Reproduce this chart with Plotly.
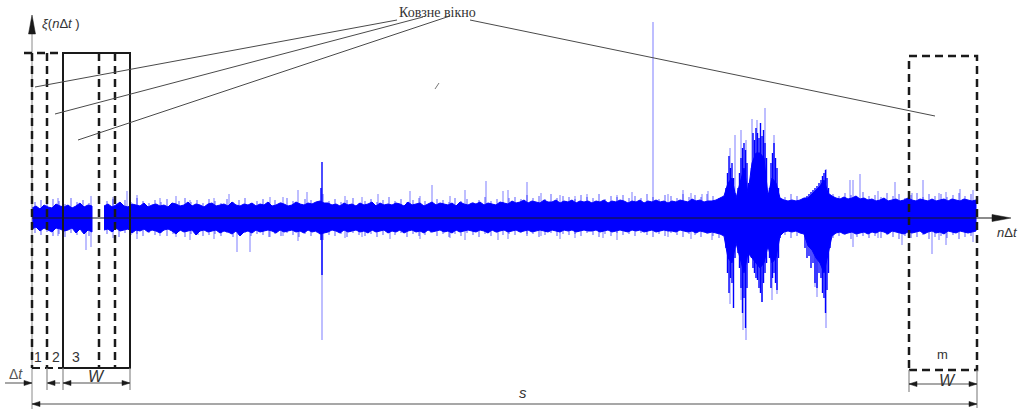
import plotly.graph_objects as go

# ---------------- data (amplitudes in chart units, time in samples) ----------------
T0 = 32          # first sample position of the envelope grid
DT = 4           # envelope grid spacing
# upper / lower envelope of the dense signal core (None = break in the record)
core_hi = [
    10, 12, 9, 13, 11, 10, 14, 12, 11, 13,
    10, 12, 15, 11, 13, 12, None, None, 12, 14,
    11, 13, 16, 12, 11, 14, 13, 12, 15, 11,
    13, 14, 12, 13, 11, 15, 14, 12, 13, 16,
    12, 14, 13, 11, 14, 15, 12, 13, 14, 12,
    16, 13, 12, 14, 13, 15, 12, 14, 13, 16,
    12, 13, 15, 14, 12, 13, 16, 14, 13, 15,
    14, 16, 17, 15, 15, 13, 14, 12, 15, 13,
    14, 12, 15, 13, 14, 16, 12, 15, 13, 14,
    13, 15, 14, 12, 16, 13, 14, 15, 12, 14,
    16, 13, 15, 14, 13, 15, 12, 16, 14, 13,
    15, 14, 16, 13, 15, 14, 13, 16, 15, 14,
    17, 15, 16, 18, 15, 17, 16, 15, 18, 16,
    16, 18, 15, 17, 16, 18, 15, 17, 16, 17,
    15, 17, 16, 18, 15, 17, 16, 18, 17, 15,
    17, 16, 18, 15, 17, 16, 18, 16, 17, 15,
    17, 16, 18, 17, 16, 19, 17, 18, 16, 17,
    17, 18, 20, 22, 35, 40, 20, 35, 50, 25,
    55, 65, 65, 60, 22, 40, 35, 20, 18, 17,
    18, 17, 18, 20, 20, 24, 28, 32, 38, 25,
    22, 20, 19, 21, 19, 20, 22, 19, 20, 18,
    19, 17, 18, 20, 17, 18, 19, 17, 18, 20,
    18, 17, 19, 18, 17, 19, 17, 18, 19, 17,
    19, 18, 17, 19, 18, 17, 18,
]
core_lo = [
    -11, -9, -13, -10, -12, -14, -10, -11, -13, -12,
    -10, -15, -11, -16, -12, -14, None, None, -12, -11,
    -14, -10, -13, -12, -11, -15, -12, -13, -11, -14,
    -12, -13, -15, -12, -11, -13, -16, -12, -14, -13,
    -12, -17, -13, -12, -14, -13, -12, -15, -13, -14,
    -16, -13, -18, -14, -13, -15, -12, -14, -13, -12,
    -13, -15, -12, -14, -13, -12, -14, -13, -15, -12,
    -14, -13, -16, -15, -14, -12, -13, -15, -12, -14,
    -13, -12, -14, -13, -15, -12, -14, -13, -12, -15,
    -13, -14, -12, -15, -13, -12, -14, -13, -15, -12,
    -14, -13, -12, -14, -13, -15, -12, -14, -13, -12,
    -13, -14, -12, -13, -15, -12, -14, -13, -12, -14,
    -13, -12, -14, -13, -12, -14, -13, -12, -13, -14,
    -12, -13, -14, -12, -13, -12, -14, -13, -12, -13,
    -13, -12, -14, -13, -12, -14, -13, -12, -13, -14,
    -12, -13, -12, -14, -13, -12, -14, -13, -12, -13,
    -13, -14, -12, -13, -14, -13, -15, -13, -14, -15,
    -14, -15, -16, -18, -40, -45, -25, -40, -55, -35,
    -40, -45, -50, -45, -28, -45, -40, -18, -14, -13,
    -14, -13, -15, -16, -28, -32, -40, -45, -55, -35,
    -18, -15, -14, -16, -15, -14, -16, -15, -14, -16,
    -14, -15, -13, -14, -16, -13, -14, -15, -16, -14,
    -15, -14, -13, -16, -14, -13, -15, -14, -16, -13,
    -14, -15, -13, -14, -15, -14, -13,
]
# fringe of the noise band, one vertical stroke per grid point
F0 = 35
FD = 6
fringe_top = [
    16, 18, 15, 19, 17, 14, 20, 16, 18, 15,
    0, 0, 17, 19, 15, 18, 16, 20, 17, 15,
    18, 16, 19, 15, 17, 20, 16, 18, 15, 19,
    17, 15, 19, 16, 18, 20, 15, 17, 19, 16,
    18, 16, 20, 17, 15, 19, 18, 16, 24, 17,
    19, 16, 18, 20, 15, 17, 19, 16, 18, 21,
    17, 19, 16, 18, 20, 17, 15, 19, 18, 16,
    20, 17, 19, 16, 18, 21, 17, 19, 16, 20,
    21, 19, 23, 20, 22, 19, 24, 20, 22, 21,
    19, 23, 21, 20, 24, 19, 22, 21, 23, 20,
    22, 20, 24, 21, 19, 23, 22, 20, 24, 21,
    23, 21, 24, 22, 20, 0, 0, 0, 0, 0,
    0, 0, 0, 0, 23, 21, 24, 22, 0, 0,
    0, 0, 0, 24, 22, 25, 23, 21, 26, 22,
    23, 21, 25, 22, 24, 20, 23, 25, 21, 24,
    22, 24, 21, 23, 25, 22, 24,
]
fringe_bot = [
    -15, -17, -14, -18, -16, -19, -15, -17, -14, -18,
    0, 0, -16, -14, -19, -15, -17, -16, -18, -15,
    -17, -15, -18, -16, -14, -19, -16, -15, -18, -17,
    -16, -18, -15, -19, -17, -15, -18, -16, -17, -19,
    -16, -18, -15, -17, -19, -16, -18, -15, -22, -17,
    -18, -16, -19, -15, -17, -18, -16, -19, -17, -15,
    -17, -15, -19, -16, -18, -17, -15, -18, -16, -19,
    -16, -18, -15, -17, -19, -16, -18, -15, -17, -16,
    -17, -15, -18, -16, -19, -17, -15, -18, -16, -17,
    -16, -18, -15, -17, -19, -16, -18, -15, -17, -16,
    -18, -15, -17, -19, -16, -18, -15, -17, -19, -16,
    -17, -19, -16, -18, -20, 0, 0, 0, 0, 0,
    0, 0, 0, 0, -19, -17, -20, -18, 0, 0,
    0, 0, 0, -20, -18, -17, -21, -19, -18, -20,
    -18, -20, -17, -19, -21, -18, -20, -19, -17, -21,
    -19, -18, -20, -17, -21, -19, -18,
]
# isolated light spikes: position, top, bottom
spike_t = [86, 91, 127, 137, 160, 190, 198, 229, 237, 250, 270, 298, 307, 322,
           378, 390, 410, 432, 450, 465, 486, 498, 503, 508, 527, 560, 587, 603,
           632, 653, 683, 702, 708, 712, 730, 735, 741, 743, 746, 752, 757, 762,
           765, 772, 774, 777, 815, 817, 826, 850, 853, 860, 895, 902, 912, 923,
           932, 946, 960, 973, 58, 113, 176, 214, 283, 345, 362, 420, 541, 575,
           617, 668, 691, 878, 939]
spike_top = [0, 22, 27, 23, 20, 18, 0, 24, 0, 0, 21, 28, 26, 0,
             24, 0, 27, 33, 22, 28, 37, 0, 27, 28, 36, 23, 24, 0,
             26, 196, 28, 24, 27, 0, 70, 83, 88, 0, 78, 99, 98, 0,
             110, 0, 83, 0, 0, 0, 49, 38, 38, 44, 36, 0, 25, 38,
             0, 26, 29, 28, 20, 21, 22, 20, 21, 22, 21, 22, 25, 22,
             23, 24, 25, 27, 25]
spike_bot = [-32, -29, 0, -21, -18, -22, -17, 0, -34, -34, -19, -23, 0, -122,
             0, -21, 0, 0, -20, -22, 0, -22, 0, -21, -16, -21, 0, -20,
             0, 0, 0, 0, 0, -22, -86, 0, -82, -112, -122, 0, 0, -84,
             0, -82, 0, -76, -69, -79, -110, 0, -29, 0, 0, -27, 0, 0,
             -36, -27, 0, -24, -18, -20, -19, -21, -18, -20, -19, -21, -18, -20,
             -22, -19, -21, -20, -22]
# strong (dark) strokes: impulse at 322 and the bursts
dark_t = [322, 321,
          726, 727.5, 729, 730.5, 732, 733.5, 735, 736.5, 738, 739.5, 741, 742.5,
          744, 745.5, 747, 748.5, 750, 751.5, 753, 754.5, 756, 757.5, 759, 760.5,
          762, 763.5, 765, 766.5, 768, 769.5, 771, 772.5, 774, 775.5, 777, 778.5, 780,
          805, 807, 809, 811, 813, 815, 817, 819, 821, 822.5, 824, 825.5, 827, 828.5, 830]
dark_top = [56, 30,
            30, 45, 62, 50, 55, 40, 25, 20, 30, 45, 60, 70,
            75, 68, 55, 35, 25, 50, 85, 78, 90, 85, 80, 95,
            82, 88, 75, 60, 25, 30, 55, 65, 75, 60, 50, 30, 20,
            20, 22, 24, 26, 28, 30, 32, 35, 38, 42, 45, 48, 40, 30, 22]
dark_bot = [-57, -22,
            -30, -55, -75, -60, -65, -90, -40, -25, -35, -50, -70, -95,
            -80, -110, -70, -45, -35, -40, -50, -55, -60, -62, -70, -75,
            -84, -65, -55, -45, -30, -40, -70, -60, -55, -65, -72, -40, -20,
            -30, -40, -38, -50, -45, -65, -70, -55, -60, -75, -80, -95, -72, -55, -30]

# ---------------- geometry helpers ----------------
BASE = 218                      # pixel row of the time axis
def Y(p):                        # pixel row -> chart y
    return BASE - p

core_t = [T0 + DT * i for i in range(len(core_hi))]
fringe_t = [F0 + FD * i for i in range(len(fringe_top))]

# split core into continuous segments and build closed polygons
px, py = [], []
seg = []
for t, h, l in zip(core_t + [None], core_hi + [None], core_lo + [None]):
    if h is None:
        if seg:
            ts = [s[0] for s in seg]
            px += ts + ts[::-1] + [None]
            py += [s[1] for s in seg] + [s[2] for s in seg][::-1] + [None]
            seg = []
    else:
        seg.append((t, h, l))

def vlines(ts, tops, bots):
    xs, ys = [], []
    for t, a, b in zip(ts, tops, bots):
        if a == 0 and b == 0:
            continue
        xs += [t, t, None]
        ys += [b, a, None]
    return xs, ys

fig = go.Figure()
sx, sy = vlines(spike_t, spike_top, spike_bot)
fig.add_trace(go.Scatter(x=sx, y=sy, mode="lines",
                         line=dict(color="rgba(40,40,255,0.5)", width=1.2),
                         hoverinfo="skip", showlegend=False))
fx, fy = vlines(fringe_t, fringe_top, fringe_bot)
fig.add_trace(go.Scatter(x=fx, y=fy, mode="lines",
                         line=dict(color="rgba(30,30,255,0.6)", width=1.2),
                         hoverinfo="skip", showlegend=False))
fig.add_trace(go.Scatter(x=px, y=py, mode="lines", fill="toself",
                         fillcolor="#0000ff", line=dict(color="#0000ff", width=1),
                         hoverinfo="skip", showlegend=False))
dx, dy = vlines(dark_t, dark_top, dark_bot)
fig.add_trace(go.Scatter(x=dx, y=dy, mode="lines",
                         line=dict(color="#0000ff", width=1.4),
                         hoverinfo="skip", showlegend=False))

shapes = []
BLK = "#1a1a1a"
GRY = "#8a8a8a"
DASH = "8px,5px"

def line(x0, p0, x1, p1, color=BLK, width=1, dash=None):
    d = dict(type="line", x0=x0, y0=Y(p0), x1=x1, y1=Y(p1),
             line=dict(color=color, width=width))
    if dash:
        d["line"]["dash"] = dash
    shapes.append(d)

def head(xt, pt, direction, L=8, w=2.6, color=BLK):
    if direction == "right":
        pts = [(xt, pt), (xt - L, pt - w), (xt - L, pt + w)]
    elif direction == "left":
        pts = [(xt, pt), (xt + L, pt - w), (xt + L, pt + w)]
    else:  # up
        pts = [(xt, pt), (xt - w, pt + L), (xt + w, pt + L)]
    path = "M " + " L ".join(f"{x},{Y(p)}" for x, p in pts) + " Z"
    shapes.append(dict(type="path", path=path, fillcolor=color,
                       line=dict(color=color, width=0.5)))

# axes
line(32, 409, 32, 30, color=GRY, width=1)
head(32, 15, "up", L=19, w=3.5)
line(32, 218, 996, 218, color=BLK, width=1.2)
head(1011, 218, "right", L=19, w=3.5)

# windows 1, 2, 3
line(32, 53, 32, 368, width=2.5, dash=DASH)
line(47, 53, 47, 368, width=2.5, dash=DASH)
line(24, 53, 63, 53, width=2.5, dash=DASH)
line(32, 368, 63, 368, width=2, dash=DASH)
shapes.append(dict(type="rect", x0=63, x1=130, y0=Y(368), y1=Y(53),
                   line=dict(color=BLK, width=2)))
line(99, 53, 99, 368, width=2.5, dash=DASH)
line(115, 53, 115, 368, width=2.5, dash=DASH)
# window m
shapes.append(dict(type="rect", x0=909, x1=977, y0=Y(370), y1=Y(56),
                   line=dict(color=BLK, width=2.5, dash=DASH)))

# dimension lines
line(5, 383, 32, 383, color=GRY, width=1.5)
head(32, 383, "right", color=BLK)
line(47, 383, 60, 383, color=GRY, width=1.5)
head(47, 383, "left", color=BLK)
for xe in (47, 63, 130):
    line(xe, 368, xe, 390, color=GRY, width=1.2)
line(63, 383, 130, 383, color=GRY, width=1.5)
head(63, 383, "left")
head(130, 383, "right")
line(909, 370, 909, 392, color=GRY, width=1.2)
line(977, 370, 977, 408, color=GRY, width=1.2)
line(909, 384, 977, 384, color=GRY, width=1.5)
head(909, 384, "left")
head(977, 384, "right")
line(32, 404, 977, 404, color=GRY, width=1.5)
head(32, 404, "left")
head(977, 404, "right")

# callout lines
CL = "#4a4a4a"
line(35, 87, 397, 20, color=CL, width=1)
line(55, 114, 423, 17, color=CL, width=1)
line(78, 140, 450, 16, color=CL, width=1)
line(470, 20, 935, 116, color=CL, width=1)
line(435, 89, 439, 83, color="#777", width=1)

fig.update_layout(shapes=shapes)

ann = []
def txt(x, p, s, size=13, font="Liberation Sans", color="#333", xanchor="center"):
    ann.append(dict(x=x, y=Y(p), text=s, showarrow=False, xanchor=xanchor,
                    yanchor="middle", font=dict(family=font, size=size, color=color)))

txt(40, 23, "<i>ξ</i>(<i>n</i>Δ<i>t</i> )", size=13, xanchor="left")
txt(1007, 232, "<i>n</i>Δ<i>t</i>", size=13)
txt(38, 357, "1", size=14)
txt(56, 357, "2", size=14)
txt(76, 357, "3", size=14)
txt(16, 374, "Δ<i>t</i>", size=14, color="#555")
txt(96, 376, "<i>W</i>", size=16)
txt(942, 354, "m", size=13)
txt(947, 380, "<i>W</i>", size=16)
txt(523, 392, "<i>s</i>", size=15)
txt(437, 12, "Ковзне вікно", size=14, font="Liberation Serif", color="#333")
fig.update_layout(annotations=ann)

fig.update_layout(
    width=1019, height=409,
    margin=dict(l=0, r=0, t=0, b=0),
    paper_bgcolor="white", plot_bgcolor="white",
    xaxis=dict(range=[0, 1019], visible=False, fixedrange=True),
    yaxis=dict(range=[Y(409), Y(0)], visible=False, fixedrange=True),
    showlegend=False,
)
fig.write_html("out.html")
